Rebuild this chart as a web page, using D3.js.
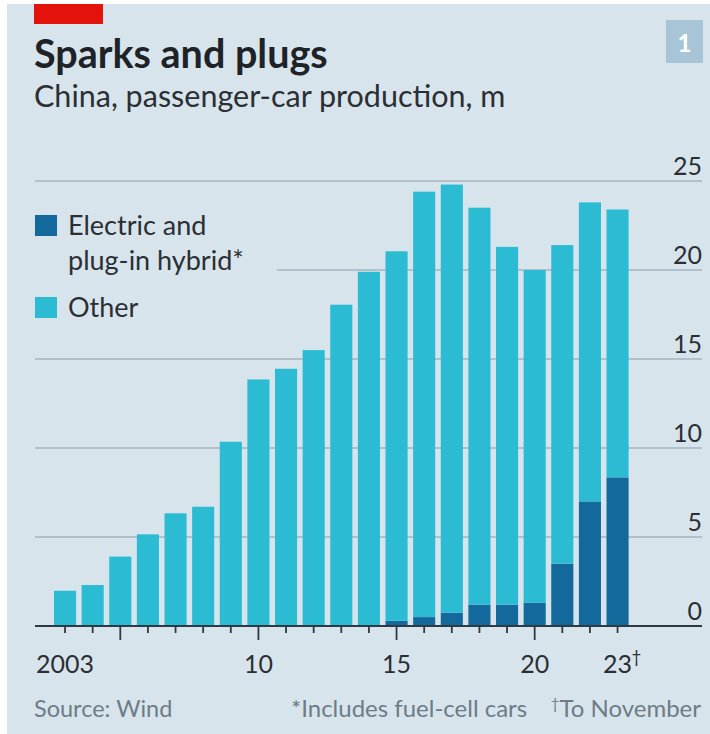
<!DOCTYPE html>
<html>
<head>
<meta charset="utf-8">
<script src="https://cdn.jsdelivr.net/npm/d3@7"></script>
<style>
  html, body { margin: 0; padding: 0; background: #ffffff; }
  svg { display: block; }
  text { font-family: Lato, "Open Sans", sans-serif; }
</style>
</head>
<body>
<svg id="chart" width="710" height="734"></svg>
<script>
// China, passenger-car production, millions
const years = d3.range(2003, 2024);
const totalProduction = [1.98, 2.3, 3.9, 5.15, 6.33, 6.7, 10.35, 13.85, 14.45, 15.5, 18.05,
                         19.9, 21.05, 24.4, 24.8, 23.5, 21.3, 20.0, 21.4, 23.8, 23.4];
const electricHybrid = [0, 0, 0, 0, 0, 0, 0, 0, 0, 0, 0,
                        0, 0.3, 0.5, 0.75, 1.2, 1.2, 1.3, 3.5, 7.0, 8.35];
const otherProduction = totalProduction.map((t, i) => +(t - electricHybrid[i]).toFixed(2));
const yTicks = [0, 5, 10, 15, 20, 25];
const majorYears = [2005, 2010, 2015, 2020];
const xLabels = [
  { year: 2003, text: "2003" },
  { year: 2010, text: "10" },
  { year: 2015, text: "15" },
  { year: 2020, text: "20" },
  { year: 2023, text: "23", mark: "\u2020" }
];
const seriesKeys = ["ev", "other"];
const seriesNames = ["Electric and|plug-in hybrid*", "Other"];

const colors = {
  bg: "#d7e4ec",
  ev: "#14699c",
  other: "#2bbcd4",
  grid: "#a5b5bf",
  axis: "#2e3a42",
  text: "#2b2f33",
  note: "#6d7c86",
  red: "#e3120b",
  badge: "#a8c5d8"
};

const rows = years.map((y, i) => ({ year: y, ev: electricHybrid[i], other: otherProduction[i] }));
const stacked = d3.stack().keys(seriesKeys)(rows);

const svg = d3.select("#chart");

// panel background with thin white margin on the top and left
svg.append("rect").attr("x", 7).attr("y", 4).attr("width", 703).attr("height", 730)
  .attr("fill", colors.bg);

// red tab
svg.append("rect").attr("x", 34).attr("y", 4).attr("width", 69).attr("height", 20)
  .attr("fill", colors.red);

// chart number badge
svg.append("rect").attr("x", 666).attr("y", 20).attr("width", 37).attr("height", 43)
  .attr("fill", colors.badge);
svg.append("text").attr("x", 684.5).attr("y", 52).attr("text-anchor", "middle")
  .attr("font-size", 24).attr("font-weight", 700).attr("fill", "#ffffff").text("1");

// titles
svg.append("text").attr("x", 34).attr("y", 68).attr("font-size", 39.5).attr("font-weight", 700)
  .attr("fill", "#1e2327").text("Sparks and plugs");
svg.append("text").attr("x", 34).attr("y", 107).attr("font-size", 30.5)
  .attr("fill", colors.text).text("China, passenger-car production, m");

// scales
const x = d3.scaleBand().domain(years).range([54, 628.6]).paddingInner(0.2).paddingOuter(0);
const y = d3.scaleLinear().domain([0, 25]).range([626, 181]);
const gridLeft = 35, gridRight = 702;

// gridlines and value labels
const yAxis = svg.append("g").attr("class", "y-axis");
yAxis.selectAll("line").data(yTicks.filter(d => d > 0)).join("line")
  .attr("x1", gridLeft).attr("x2", gridRight)
  .attr("y1", d => y(d)).attr("y2", d => y(d))
  .attr("stroke", colors.grid).attr("stroke-width", 1.3);
yAxis.selectAll("text").data(yTicks).join("text")
  .attr("x", gridRight).attr("y", d => y(d) - 6.5)
  .attr("text-anchor", "end").attr("font-size", 25).attr("fill", colors.text)
  .text(d => d);

// legend, sitting on a panel-coloured block
const legend = svg.append("g").attr("class", "legend");
legend.append("rect").attr("x", gridLeft).attr("y", 198).attr("width", 242).attr("height", 135)
  .attr("fill", colors.bg);
const legendItems = [
  { key: "ev", lines: seriesNames[0].split("|"), top: 215 },
  { key: "other", lines: seriesNames[1].split("|"), top: 297 }
];
legendItems.forEach(item => {
  legend.append("rect").attr("x", 35).attr("y", item.top).attr("width", 22).attr("height", 21)
    .attr("fill", colors[item.key]);
  item.lines.forEach((ln, j) => {
    legend.append("text").attr("x", 68).attr("y", item.top + 20 + j * 35)
      .attr("font-size", 27).attr("fill", colors.text).text(ln);
  });
});

// stacked bars
svg.append("g").selectAll("g").data(stacked).join("g")
  .attr("fill", d => colors[d.key])
  .selectAll("rect").data(d => d).join("rect")
  .attr("x", d => x(d.data.year))
  .attr("width", x.bandwidth())
  .attr("y", d => y(d[1]))
  .attr("height", d => Math.max(0, y(d[0]) - y(d[1])));

// baseline and year ticks
const xAxis = svg.append("g").attr("class", "x-axis");
xAxis.selectAll("line.tick").data(years).join("line").attr("class", "tick")
  .attr("x1", d => x(d) + x.bandwidth() / 2).attr("x2", d => x(d) + x.bandwidth() / 2)
  .attr("y1", y(0)).attr("y2", d => y(0) + (majorYears.includes(d) ? 14 : 7))
  .attr("stroke", colors.axis).attr("stroke-width", 1.8);
xAxis.append("line").attr("x1", gridLeft).attr("x2", gridRight)
  .attr("y1", y(0)).attr("y2", y(0)).attr("stroke", colors.axis).attr("stroke-width", 2.2);

xLabels.forEach(l => {
  const cx = x(l.year) + x.bandwidth() / 2;
  xAxis.append("text").attr("x", cx).attr("y", 673).attr("text-anchor", "middle")
    .attr("font-size", 25).attr("fill", colors.text).text(l.text);
  if (l.mark) {
    xAxis.append("text").attr("x", cx + 14).attr("y", 663).attr("font-size", 17)
      .attr("fill", colors.text).text(l.mark);
  }
});

// footnotes
svg.append("text").attr("x", 34).attr("y", 717).attr("font-size", 23.5).attr("fill", colors.note)
  .text("Source: Wind");
svg.append("text").attr("x", 291).attr("y", 717).attr("font-size", 24).attr("fill", colors.note)
  .text("*Includes fuel-cell cars");
const notes = svg.append("text").attr("x", 701).attr("y", 717).attr("text-anchor", "end")
  .attr("font-size", 24).attr("fill", colors.note);
notes.append("tspan").attr("font-size", 15).attr("dy", -8).text("\u2020");
notes.append("tspan").attr("dy", 8).text("To November");
</script>
</body>
</html>
